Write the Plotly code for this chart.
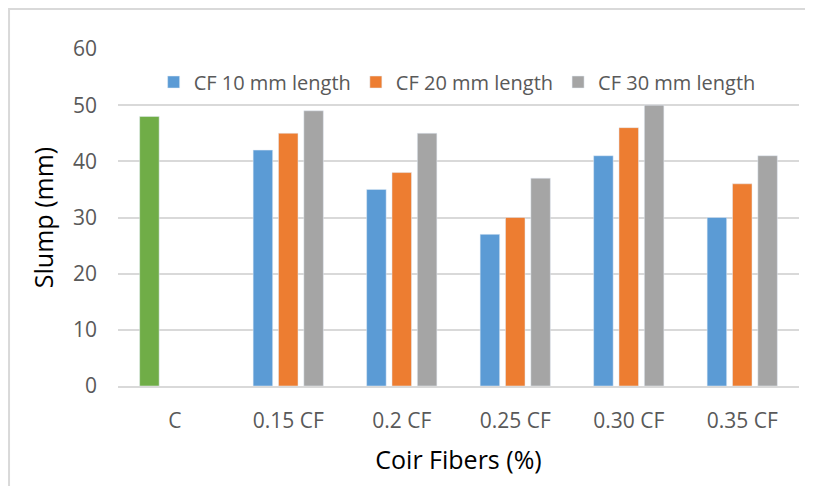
import plotly.graph_objects as go

categories = ["C", "0.15 CF", "0.2 CF", "0.25 CF", "0.30 CF", "0.35 CF"]
control = [48, None, None, None, None, None]
cf10 = [None, 42, 35, 27, 41, 30]
cf20 = [None, 45, 38, 30, 46, 36]
cf30 = [None, 49, 45, 37, 50, 41]
series_names = ["CF 10 mm length", "CF 20 mm length", "CF 30 mm length"]
y_ticks = [0, 10, 20, 30, 40, 50, 60]

font_family = "Open Sans"
tick_color = "#595959"
grid_color = "#d9d9d9"

fig = go.Figure()
fig.add_trace(go.Bar(x=categories, y=control, name="Control", offsetgroup="1",
                     marker_color="#70AD47", showlegend=False))
fig.add_trace(go.Bar(x=categories, y=cf10, name=series_names[0], offsetgroup="1",
                     marker_color="#5B9BD5"))
fig.add_trace(go.Bar(x=categories, y=cf20, name=series_names[1], offsetgroup="2",
                     marker_color="#ED7D31"))
fig.add_trace(go.Bar(x=categories, y=cf30, name=series_names[2], offsetgroup="3",
                     marker_color="#A5A5A5"))

fig.update_layout(
    width=813, height=486,
    margin=dict(l=110, r=22, t=41, b=108),
    paper_bgcolor="white", plot_bgcolor="white",
    barmode="group", bargap=0.33, bargroupgap=0.23,
    font=dict(family=font_family, size=20, color=tick_color),
    legend=dict(orientation="h", x=0.498, y=0.902, xanchor="center", yanchor="middle",
                font=dict(size=20, color=tick_color), bgcolor="rgba(0,0,0,0)",
                itemwidth=30, tracegroupgap=0),
    shapes=[dict(type="rect", xref="paper", yref="paper",
                 x0=-0.160, x1=1.2, y0=-0.5, y1=1.119,
                 line=dict(color="#d9d9d9", width=2), layer="below")],
)
fig.update_xaxes(
    title=dict(text="Coir Fibers (%)", font=dict(size=25, color="black"), standoff=19),
    showline=True, linecolor=grid_color, linewidth=1.5,
    tickfont=dict(size=21, color=tick_color), ticklabelstandoff=15,
    showgrid=False,
)
fig.update_yaxes(
    title=dict(text="Slump (mm)", font=dict(size=25, color="black"), standoff=12),
    range=[0, 60], tickvals=y_ticks, showgrid=True, gridcolor=grid_color, gridwidth=1.5,
    zeroline=False, showline=False,
    tickfont=dict(size=21, color=tick_color), ticklabelstandoff=20,
)

fig.write_html("out.html")
